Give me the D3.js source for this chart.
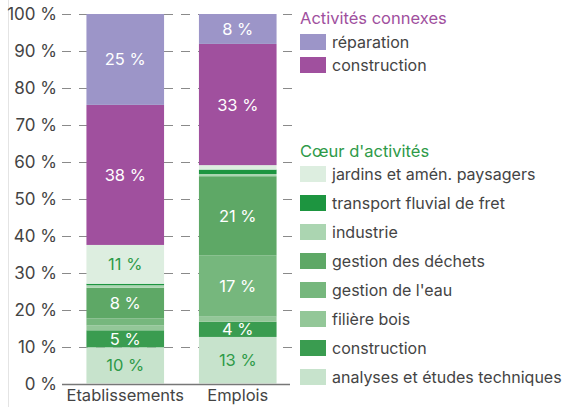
<!DOCTYPE html>
<html>
<head>
<meta charset="utf-8">
<script src="https://cdn.jsdelivr.net/npm/d3@7"></script>
<style>
  body { margin: 0; background: #fff; }
  svg text { font-family: "Inter", "Roboto", sans-serif; }
</style>
</head>
<body>
<div id="chart"></div>
<script>
// categories (x axis)
const categories = ["Etablissements", "Emplois"];

// series, stacked from bottom to top
const series = ["analyses", "construction_coeur", "bois", "eau", "dechets", "industrie", "fluvial", "jardins", "construction_connexe", "reparation"];
const etablissements = [9.8, 4.6, 1.3, 1.9, 8.3, 0.7, 0.4, 10.5, 37.9, 24.6];
const emplois = [12.6, 4.1, 1.4, 16.6, 21.4, 0.6, 1.2, 1.2, 32.8, 8.1];

const colors = ["#c7e3cc", "#3a9c50", "#93c798", "#76b77d", "#5ea866", "#abd5b1", "#1d9540", "#ddeee0", "#a0509e", "#9c95c8"];
// label colour on the segment (light segments get green text)
const labelColors = ["#2e9a48", "#fff", "#fff", "#fff", "#fff", "#fff", "#fff", "#2e9a48", "#fff", "#fff"];

// legend
const connexeLabels = ["réparation", "construction"];
const connexeKeys = ["reparation", "construction_connexe"];
const coeurLabels = ["jardins et amén. paysagers", "transport fluvial de fret", "industrie", "gestion des déchets", "gestion de l'eau", "filière bois", "construction", "analyses et études techniques"];
const coeurKeys = ["jardins", "fluvial", "industrie", "dechets", "eau", "bois", "construction_coeur", "analyses"];

const yTicks = [0, 10, 20, 30, 40, 50, 60, 70, 80, 90, 100];

const width = 568, height = 407;
const svg = d3.select("#chart").append("svg")
  .attr("width", width)
  .attr("height", height);

const color = d3.scaleOrdinal().domain(series).range(colors);

// build table for the stack
const table = categories.map((c, i) => {
  const row = {cat: c};
  const vals = i === 0 ? etablissements : emplois;
  series.forEach((s, j) => row[s] = vals[j]);
  return row;
});
const stacked = d3.stack().keys(series)(table);

// scales
const x = d3.scaleBand().domain(categories).range([69, 294]).paddingInner(0.31).paddingOuter(0.155);
const y = d3.scaleLinear().domain([0, 100]).range([383.5, 14]);

// faint left border line
svg.append("line")
  .attr("x1", 8.5).attr("x2", 8.5)
  .attr("y1", 0).attr("y2", height)
  .attr("stroke", "#e4e4e4");

// dashed gridlines
svg.append("g")
  .selectAll("line")
  .data(yTicks.filter(d => d > 0))
  .enter()
  .append("line")
  .attr("x1", 62).attr("x2", 294)
  .attr("y1", d => Math.round(y(d)) + 0.5)
  .attr("y2", d => Math.round(y(d)) + 0.5)
  .attr("stroke", "#8a8a8a")
  .attr("stroke-width", 1.2)
  .attr("stroke-dasharray", "9,8");

// y tick labels
svg.append("g")
  .selectAll("text")
  .data(yTicks)
  .enter()
  .append("text")
  .attr("x", 57)
  .attr("y", d => y(d) + 6)
  .attr("text-anchor", "end")
  .attr("fill", "#444")
  .style("font-size", "17px")
  .text(d => d + " %");

// bars
const layers = svg.append("g")
  .selectAll("g")
  .data(stacked)
  .enter()
  .append("g")
  .attr("fill", d => color(d.key));

layers.selectAll("rect")
  .data(d => d)
  .enter()
  .append("rect")
  .attr("x", d => x(d.data.cat))
  .attr("y", d => y(d[1]))
  .attr("height", d => y(d[0]) - y(d[1]))
  .attr("width", x.bandwidth());

// value labels on bigger segments
stacked.forEach((layer, li) => {
  svg.append("g")
    .selectAll("text")
    .data(layer.filter(d => d[1] - d[0] >= 4))
    .enter()
    .append("text")
    .attr("x", d => x(d.data.cat) + x.bandwidth() / 2)
    .attr("y", d => (y(d[0]) + y(d[1])) / 2 + 6)
    .attr("text-anchor", "middle")
    .attr("fill", labelColors[li])
    .style("font-size", "16.5px")
    .text(d => Math.round(d[1] - d[0]) + " %");
});

// x axis
const xAxis = svg.append("g")
  .attr("transform", "translate(0," + 384 + ")")
  .call(d3.axisBottom(x).tickSize(0).tickPadding(5));
xAxis.select(".domain")
  .attr("d", "M62,0.5H290")
  .attr("stroke", "#777")
  .attr("stroke-width", 1.5);
xAxis.selectAll("text")
  .attr("fill", "#444")
  .style("font-size", "16.5px")
  .style("font-family", "Inter, Roboto, sans-serif");

// legend: activités connexes
const legendX = 300;
svg.append("text")
  .attr("x", legendX).attr("y", 24)
  .attr("fill", "#a0509e")
  .style("font-size", "16.5px")
  .text("Activités connexes");

const leg1 = svg.append("g")
  .selectAll("g")
  .data(connexeKeys)
  .enter()
  .append("g")
  .attr("transform", (d, i) => "translate(" + legendX + "," + (34 + i * 23) + ")");
leg1.append("rect").attr("width", 26).attr("height", 16).attr("fill", d => color(d));
leg1.append("text")
  .attr("x", 32).attr("y", 14)
  .attr("fill", "#444")
  .style("font-size", "16px")
  .text((d, i) => connexeLabels[i]);

// legend: coeur d'activités
svg.append("text")
  .attr("x", legendX).attr("y", 157)
  .attr("fill", "#2e9a48")
  .style("font-size", "16.5px")
  .text("Cœur d'activités");

const leg2 = svg.append("g")
  .selectAll("g")
  .data(coeurKeys)
  .enter()
  .append("g")
  .attr("transform", (d, i) => "translate(" + legendX + "," + (166 + i * 29) + ")");
leg2.append("rect").attr("width", 26).attr("height", 16).attr("fill", d => color(d));
leg2.append("text")
  .attr("x", 32).attr("y", 14)
  .attr("fill", "#444")
  .style("font-size", "16px")
  .text((d, i) => coeurLabels[i]);
</script>
</body>
</html>
